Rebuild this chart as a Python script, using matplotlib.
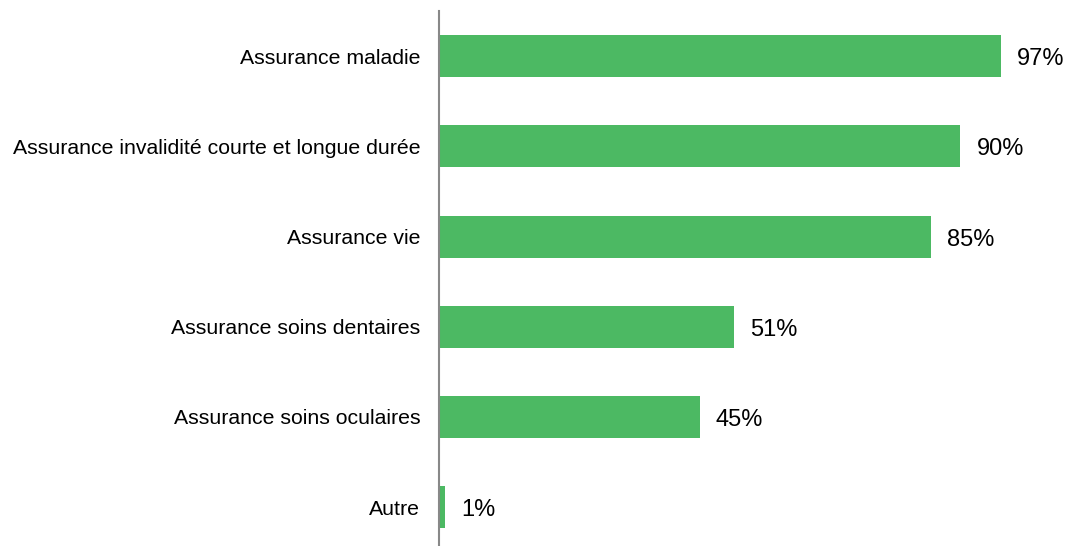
import matplotlib
matplotlib.use("Agg")
import matplotlib.pyplot as plt
from matplotlib.transforms import offset_copy

categories = ["Assurance maladie",
              "Assurance invalidité courte et longue durée",
              "Assurance vie",
              "Assurance soins dentaires",
              "Assurance soins oculaires",
              "Autre"]
values = [97, 90, 85, 51, 45, 1]
value_labels = ["97%", "90%", "85%", "51%", "45%", "1%"]

plt.rcParams['font.family'] = ['Liberation Sans', 'DejaVu Sans']

W, H = 1077, 546
fig = plt.figure(figsize=(W / 100, H / 100), dpi=100)
left, right = 439 / W, 1018.4 / W
top, bottom = 11 / H, 0 / H
ax = fig.add_axes([left, bottom, right - left, 1 - top - bottom])

y = list(range(len(categories)))
ax.barh(y, values, height=0.466, color="#4CB963")
ax.set_xlim(0, 100)
ax.set_ylim(5.43, -0.5)

ax.set_yticks(y)
ax.set_yticklabels(categories, fontsize=15.3, color="#000000")
ax.tick_params(axis='y', length=0, pad=13.5)
ax.set_xticks([])

for s in ["top", "right", "bottom"]:
    ax.spines[s].set_visible(False)
ax.spines["left"].set_color("#888888")
ax.spines["left"].set_linewidth(1.5)

trans = offset_copy(ax.transData, fig=fig, x=16, y=-3, units='dots')
for yi, v, lab in zip(y, values, value_labels):
    ax.text(v, yi, lab, transform=trans, va="center", ha="left",
            fontsize=17, color="#000000", clip_on=False)

fig.savefig("out.png", dpi=100)
